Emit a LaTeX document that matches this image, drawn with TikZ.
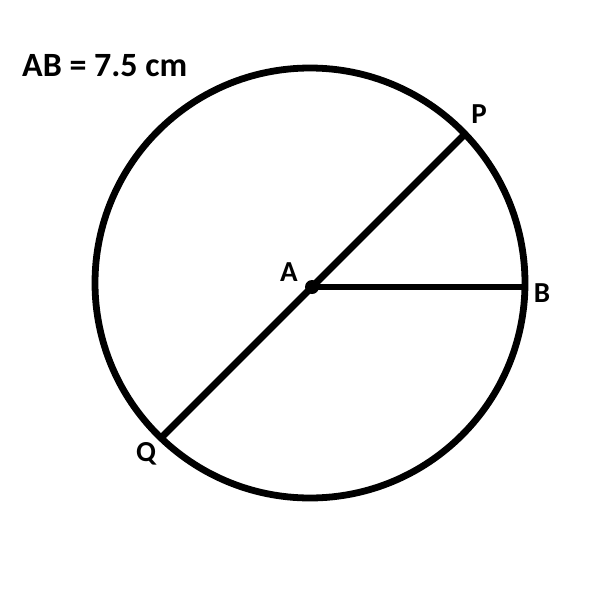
\documentclass[tikz,border=0pt]{standalone}
\usepackage{fontspec}
\setmainfont{Carlito}
\usetikzlibrary{calc}
\begin{document}
\begin{tikzpicture}[x=1pt,y=-1pt,
  lbl/.style={font=\bfseries\fontsize{29}{34}\selectfont, inner sep=0pt},
  geo/.style={line width=6.8pt}]
\useasboundingbox (0,0) rectangle (600,600);
\coordinate (O) at (310,283);
\coordinate (A) at (312,287);
\draw[geo] (O) circle[radius=215];
\coordinate (P) at ($(A)+(152,-152)$);
\coordinate (Q) at ($(A)+(-151,151)$);
\coordinate (B) at (524,287);
\draw[geo] (Q) -- (P);
\draw[geo] (A) -- (B);
\fill (A) circle[radius=7];
\node[font=\bfseries\fontsize{34}{40}\selectfont, inner sep=0pt, anchor=base west] (t) at (22,76) {AB = 7.5 cm};
\node[lbl] (lp) at (479,114) {P};
\node[lbl] (lb) at (542,293) {B};
\node[lbl] (la) at (289,272) {A};
\node[lbl] (lq) at (146,454) {Q};
\end{tikzpicture}
\end{document}
